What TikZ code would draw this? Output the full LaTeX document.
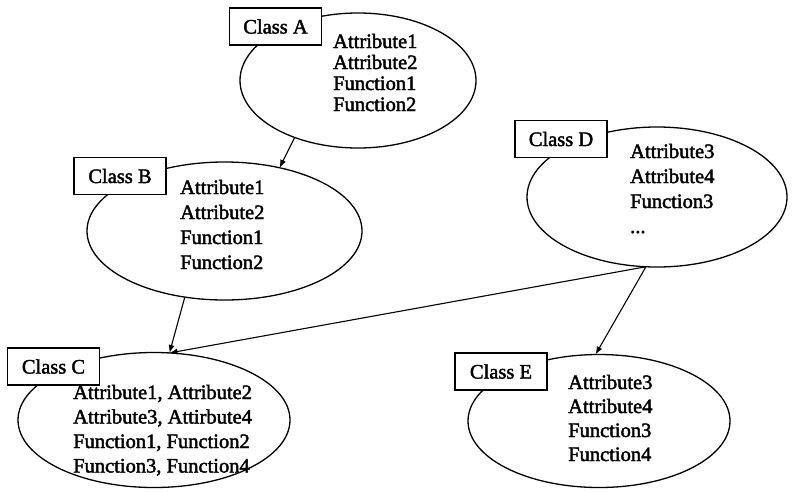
\documentclass[tikz,border=0pt]{standalone}
\usepackage{fontspec}
\setmainfont{Liberation Serif}
\newfontfamily\scanfont{Liberation Serif}[FakeBold=2]
\usetikzlibrary{arrows.meta,shapes.geometric}
\begin{document}
\begin{tikzpicture}[x=1pt,y=-1pt,
  oval/.style={draw, ellipse, line width=1.3pt, inner sep=0pt, outer sep=0pt},
  clsbox/.style={draw, fill=white, line width=1.3pt, minimum width=92pt,
    minimum height=37pt, inner sep=0pt, font=\scanfont\fontsize{20.5pt}{24pt}\selectfont},
  members/.style={anchor=base west, inner sep=0pt,
    font=\scanfont\fontsize{20.5pt}{#1pt}\selectfont},
  link/.style={line width=1.1pt, -{Latex[length=8pt,width=6pt]}}]
\fill[white] (0,0) rectangle (792,491);
\useasboundingbox (0,0) rectangle (792,491);

% ellipses
\node[oval, minimum width=236pt, minimum height=135pt] (eA) at (358,80.5) {};
\node[oval, minimum width=275pt, minimum height=138pt] (eB) at (224.5,231) {};
\node[oval, minimum width=272pt, minimum height=135pt] (eC) at (154,420) {};
\node[oval, minimum width=260pt, minimum height=140pt] (eD) at (657,197) {};
\node[oval, minimum width=262pt, minimum height=133pt] (eE) at (599,421) {};

% class boxes
\node[clsbox] (bA) at (275.5,26.5) {Class A};
\node[clsbox] (bB) at (120,176) {Class B};
\node[clsbox] (bC) at (53.5,366.5) {Class C};
\node[clsbox] (bD) at (561,139) {Class D};
\node[clsbox] (bE) at (501,371.5) {Class E};

% member lists
\node[members=21] (tA) at (333,48) {\begin{tabular}[t]{@{}l@{}}Attribute1\\Attribute2\\Function1\\Function2\end{tabular}};
\node[members=25] (tB) at (180,194) {\begin{tabular}[t]{@{}l@{}}Attribute1\\Attribute2\\Function1\\Function2\end{tabular}};
\node[members=24.5] (tC) at (73,399) {\begin{tabular}[t]{@{}l@{}}Attribute1, Attribute2\\Attribute3, Attirbute4\\Function1, Function2\\Function3, Function4\end{tabular}};
\node[members=25] (tD) at (630,158) {\begin{tabular}[t]{@{}l@{}}Attribute3\\Attribute4\\Function3\\...\end{tabular}};
\node[members=24] (tE) at (568,389) {\begin{tabular}[t]{@{}l@{}}Attribute3\\Attribute4\\Function3\\Function4\end{tabular}};

% connectors
\coordinate (cIn) at (eC.77);
\coordinate (dOut) at (eD.261.6);
\draw[link] (eA.222.1) -- (eB.49.9);
\draw[link] (eB.239.1) -- (cIn);
\draw[link] (dOut) -- (cIn);
\draw[link] (dOut) -- (eE.93.4);
\end{tikzpicture}
\end{document}
